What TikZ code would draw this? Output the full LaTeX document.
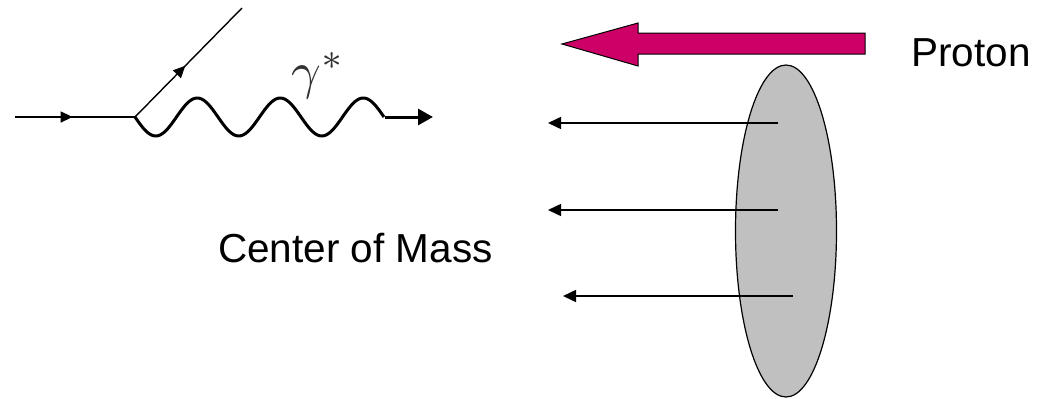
\documentclass[tikz,border=0pt]{standalone}
\usepackage{fontspec}
\setmainfont{Liberation Sans}
\usepackage{graphicx}
\usetikzlibrary{arrows.meta,decorations.markings,shapes.geometric}
\definecolor{protonmag}{RGB}{204,0,102}
\definecolor{blobgray}{RGB}{192,192,192}
\tikzset{
  fermion/.style={line width=1.4pt,
    postaction={decorate},
    decoration={markings, mark=at position #1 with {\arrow{Triangle[length=12pt,width=11pt]}}}},
  fermion/.default=0.5,
  photon/.style={line width=3pt, line join=round},
  parton/.style={line width=1.5pt, -{Triangle[length=13pt,width=12pt]}},
  bigtext/.style={font=\fontsize{40.5}{48}\selectfont, inner sep=0pt, anchor=base west},
}
\begin{document}
\begin{tikzpicture}[x=1pt,y=-1pt]
\useasboundingbox (0,0) rectangle (1042,399);
% Feynman diagram
\coordinate (ein) at (15,117);
\coordinate (vtx) at (135,117);
\coordinate (eout) at (242,8);
\coordinate (wend) at (385,117);
\coordinate (gtip) at (433,117);
\draw[fermion=0.48] (ein) -- (vtx);
\draw[fermion=0.47] (vtx) -- (eout);
\draw[photon] (vtx) plot[domain=135:384,samples=120,smooth] (\x,{117+19*sin(4.3373*(\x-135))});
\draw[photon,-{Triangle[length=15pt,width=16pt]}] (wend) -- (gtip);
\node[inner sep=0pt, anchor=base west, text=black!80] (gamma) at (291,88) {\scalebox{5.2}{$\gamma^*$}};
% Proton side
\node[draw=black, line width=1.2pt, fill=blobgray, ellipse, minimum width=101pt, minimum height=332pt, inner sep=0pt] (blob) at (786,231) {};
\draw[fill=protonmag, line width=1pt, line join=miter] (865,33) -- (638,33) -- (638,23) -- (562,44) -- (638,66) -- (638,54) -- (865,54) -- cycle;
\coordinate (p1s) at (778,123); \coordinate (p1e) at (548,123);
\coordinate (p2s) at (778,210); \coordinate (p2e) at (548,210);
\coordinate (p3s) at (793,296); \coordinate (p3e) at (563,296);
\draw[parton] (p1s) -- (p1e);
\draw[parton] (p2s) -- (p2e);
\draw[parton] (p3s) -- (p3e);
\node[bigtext] (proton) at (911,66) {Proton};
\node[bigtext] (com) at (218,262) {Center of Mass};
\end{tikzpicture}
\end{document}
